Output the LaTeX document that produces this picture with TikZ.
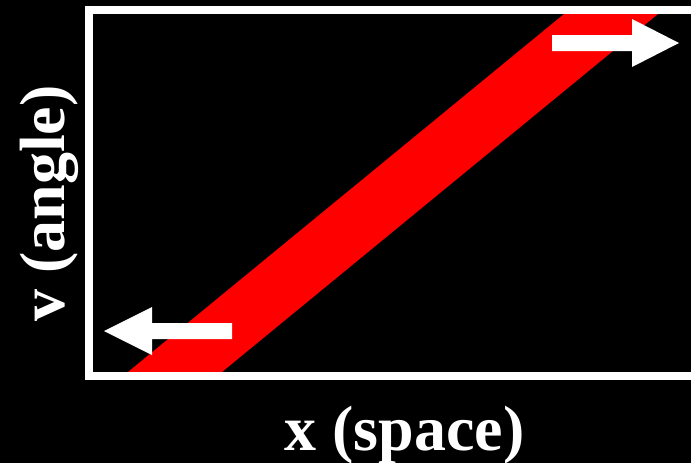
\documentclass[tikz,border=0pt]{standalone}
\usepackage{fontspec}
\setmainfont{Liberation Serif}
\begin{document}
\begin{tikzpicture}[x=1pt,y=-1pt,
  arrowfill/.style={fill=white},
  band/.style={fill=red},
  frame/.style={draw=white,line width=8pt},
  axlabel/.style={text=white,font=\fontsize{64}{77}\selectfont\bfseries,inner sep=0pt}]
\useasboundingbox (0,0) rectangle (691,463);
\clip (0,0) rectangle (691,463);
\fill[black] (0,0) rectangle (691,463);
% red band
\fill[band] (123.1,376) -- (217.1,376) -- (662.9,10) -- (568.9,10) -- cycle;
% frame
\draw[frame] (89,10) rectangle (720,376);
% top-right arrow
\fill[arrowfill] (552,35) -- (632,35) -- (632,19) -- (679,43) -- (632,67) -- (632,51) -- (552,51) -- cycle;
% bottom-left arrow
\fill[arrowfill] (232,323) -- (152,323) -- (152,307) -- (104,331) -- (152,355) -- (152,339) -- (232,339) -- cycle;
% labels
\node[axlabel,anchor=base] (xl) at (404.5,450) {x (space)};
\node[axlabel,anchor=base,rotate=90] (vl) at (64,203.5) {v (angle)};
\end{tikzpicture}
\end{document}
